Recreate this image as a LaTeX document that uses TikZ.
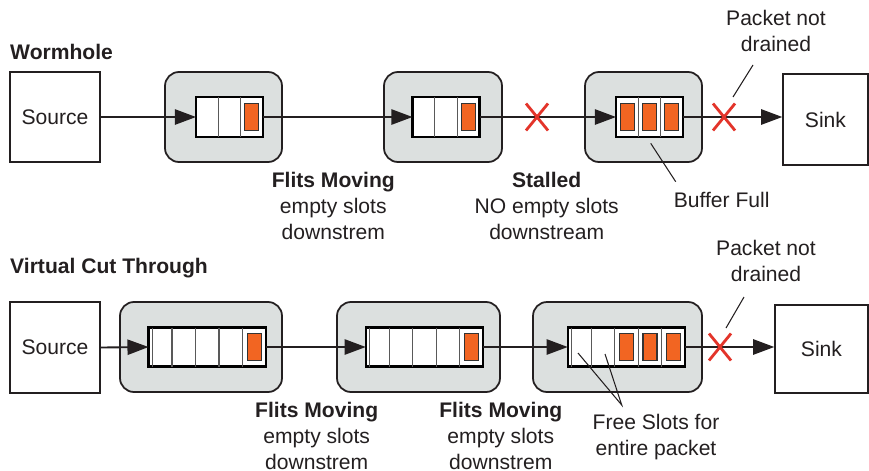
\documentclass[tikz,border=0pt]{standalone}
\usepackage{fontspec}
\setmainfont{Liberation Sans}
\usetikzlibrary{arrows.meta,calc}

\definecolor{routerfill}{HTML}{DCE0DF}
\definecolor{flitorange}{HTML}{F26522}
\definecolor{blockred}{HTML}{E3342A}
\definecolor{inkgray}{HTML}{231F20}

% slot dividers and occupied flits of a buffer node
% #1 buffer node, #2 number of slots, #3 list of occupied slots
\newcommand\fillslots[3]{%
  \pgfmathtruncatemacro\lastdiv{#2-1}%
  \foreach \i in {1,...,\lastdiv}{%
    \pgfmathsetmacro\frac{\i/#2}%
    \draw[divider] ($(#1.north west)!\frac!(#1.north east)$) --
                   ($(#1.south west)!\frac!(#1.south east)$);}%
  \foreach \k in {#3}{%
    \pgfmathsetmacro\frac{(\k-0.5)/#2}%
    \node[flit] at ($(#1.west)!\frac!(#1.east)$) {};}%
}
% red cross marking a blocked link
\newcommand\blockmark[1]{%
  \draw[block] ($(#1)+(-11,-13.5)$) -- ($(#1)+(11,13.5)$);
  \draw[block] ($(#1)+(-11,13.5)$) -- ($(#1)+(11,-13.5)$);
}

\begin{document}
\begin{tikzpicture}[x=0.03cm,y=-0.03cm,
  every node/.style={font=\fontsize{18}{22}\selectfont, text=inkgray},
  title/.style={font=\fontsize{18}{22}\selectfont\bfseries, anchor=west, inner sep=0},
  caption/.style={align=center, inner sep=0},
  endpoint/.style={draw=inkgray, line width=1.2pt, fill=white, inner sep=0},
  router/.style={draw=inkgray, line width=1.5pt, fill=routerfill,
                 rounded corners=14*0.03cm, inner sep=0, minimum height=90*0.03cm},
  buffer/.style={draw=black, line width=1.9pt, fill=white, inner sep=0, outer sep=0},
  divider/.style={draw=black!65, line width=1pt},
  flit/.style={draw=black!80, line width=0.9pt, fill=flitorange, inner sep=0,
               minimum width=14*0.03cm, minimum height=27*0.03cm},
  link/.style={draw=inkgray, line width=1.6pt},
  arrowlink/.style={link, -{Triangle[length=18pt,width=13pt]}},
  block/.style={draw=blockred, line width=2.4pt},
  leader/.style={draw=inkgray, line width=0.9pt}]

\useasboundingbox (0,0) rectangle (869,470);

% ---------------- Wormhole ----------------
\node[title] (wtitle) at (10,52) {Wormhole};

\node[endpoint, minimum width=90*0.03cm, minimum height=90*0.03cm] (wsrc) at (55,117) {Source};
\node[endpoint, minimum width=85*0.03cm, minimum height=91*0.03cm] (wsink) at (825.5,119.5) {Sink};

\node[router, minimum width=117*0.03cm] (wr1) at (223.5,117) {};
\node[router, minimum width=118*0.03cm] (wr2) at (443,117) {};
\node[router, minimum width=117*0.03cm] (wr3) at (643.5,117) {};

\node[buffer, minimum width=67*0.03cm, minimum height=40*0.03cm] (wb1) at (229.5,117) {};
\node[buffer, minimum width=67*0.03cm, minimum height=40*0.03cm] (wb2) at (446,117) {};
\node[buffer, minimum width=67*0.03cm, minimum height=40*0.03cm] (wb3) at (649.5,117) {};
\fillslots{wb1}{3}{3}
\fillslots{wb2}{3}{3}
\fillslots{wb3}{3}{1,2,3}

\draw[arrowlink] (wsrc.east) -- (wb1.west);
\draw[arrowlink] (wb1.east) -- (wb2.west);
\draw[arrowlink] (wb2.east) -- (wb3.west);
\draw[arrowlink] (wb3.east) -- (wb3.east -| wsink.west);

\coordinate (wx1) at (537,117);
\coordinate (wx2) at (724,117);
\blockmark{wx1}
\blockmark{wx2}

\node[caption] (wmove) at (333.3,206) {\textbf{Flits Moving}\\empty slots\\downstrem};
\node[caption] (wstall) at (546.7,206) {\textbf{Stalled}\\NO empty slots\\downstream};
\node[caption] (wfull) at (721.7,200) {Buffer Full};
\node[caption] (wdrain) at (776,31) {Packet not\\drained};

\coordinate (wfullA) at (650.7,143.3);
\coordinate (wfullB) at (675.7,181.7);
\draw[leader] (wfullA) -- (wfullB);
\coordinate (wdrainA) at (753,65);
\coordinate (wdrainB) at (733,97);
\draw[leader] (wdrainA) -- (wdrainB);

% ---------------- Virtual Cut Through ----------------
\node[title] (vtitle) at (10,268) {Virtual Cut Through};

\node[endpoint, minimum width=90*0.03cm, minimum height=91*0.03cm] (vsrc) at (55,347.5) {Source};
\node[endpoint, minimum width=93*0.03cm, minimum height=88*0.03cm] (vsink) at (821.5,349) {Sink};

\node[router, minimum width=162*0.03cm] (vr1) at (201,347) {};
\node[router, minimum width=163*0.03cm] (vr2) at (418.5,347) {};
\node[router, minimum width=169*0.03cm] (vr3) at (617.5,347) {};

\node[buffer, minimum width=117.5*0.03cm, minimum height=39*0.03cm] (vb1) at (207.3,347) {};
\node[buffer, minimum width=117.5*0.03cm, minimum height=39*0.03cm] (vb2) at (424.5,347) {};
\node[buffer, minimum width=117.5*0.03cm, minimum height=39*0.03cm] (vb3) at (626.5,347) {};
\foreach \b in {vb1,vb2,vb3}{
  \draw[divider] ($(\b.north west)+(4,0)$) -- ($(\b.south west)+(4,0)$);
}
\fillslots{vb1}{5}{5}
\fillslots{vb2}{5}{5}
\fillslots{vb3}{5}{3,4,5}

\draw[arrowlink] (vsrc.east) -- (vb1.west);
\draw[arrowlink] (vb1.east) -- (vb2.west);
\draw[arrowlink] (vb2.east) -- (vb3.west);
\draw[arrowlink] (vb3.east) -- (vb3.east -| vsink.west);

\coordinate (vx1) at (720,347);
\blockmark{vx1}

\node[caption] (vmove1) at (316.7,436) {\textbf{Flits Moving}\\empty slots\\downstrem};
\node[caption] (vmove2) at (500.8,436) {\textbf{Flits Moving}\\empty slots\\downstrem};
\node[caption] (vfree) at (656,437) {Free Slots for\\entire packet};
\node[caption] (vdrain) at (766,261) {Packet not\\drained};

\coordinate (vfreeA) at (578,353);
\coordinate (vfreeB) at (605,354);
\coordinate (vfreeC) at (621.7,405);
\draw[leader] (vfreeA) -- (vfreeC) -- (vfreeB);
\coordinate (vdrainA) at (744,297);
\coordinate (vdrainB) at (726,328);
\draw[leader] (vdrainA) -- (vdrainB);

\end{tikzpicture}
\end{document}
